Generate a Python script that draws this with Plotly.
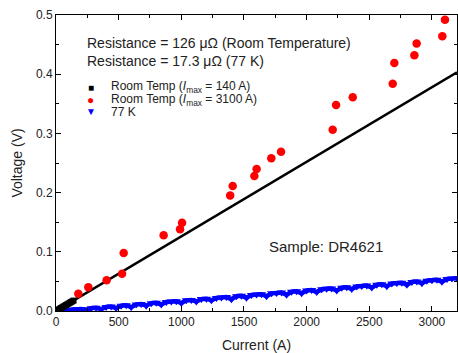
import plotly.graph_objects as go

# ---------------- data ----------------
rt140_current = [0, 10, 20, 30, 40, 50, 60, 70, 80, 90, 100, 110, 120, 130, 140]
rt140_voltage = [0.0000, 0.0013, 0.0025, 0.0038, 0.0050, 0.0063, 0.0076, 0.0088,
                 0.0101, 0.0113, 0.0126, 0.0139, 0.0151, 0.0164, 0.0176]

rt3100_current = [178, 258, 404, 527, 540, 859, 990, 1006, 1390, 1410, 1583, 1601,
                  1718, 1796, 2208, 2235, 2368, 2687, 2700, 2860, 2878, 3083, 3104]
rt3100_voltage = [0.029, 0.040, 0.052, 0.063, 0.098, 0.128, 0.138, 0.149, 0.195, 0.211,
                  0.228, 0.240, 0.258, 0.269, 0.306, 0.348, 0.361, 0.384, 0.419, 0.432,
                  0.452, 0.464, 0.492]

k77_current = [0, 40, 80, 120, 160, 200, 240, 280, 320, 360, 400, 440, 480, 520, 560,
               600, 640, 680, 720, 760, 800, 840, 880, 920, 960, 1000, 1040, 1080, 1120,
               1160, 1200, 1240, 1280, 1320, 1360, 1400, 1440, 1480, 1520, 1560, 1600,
               1640, 1680, 1720, 1760, 1800, 1840, 1880, 1920, 1960, 2000, 2040, 2080,
               2120, 2160, 2200, 2240, 2280, 2320, 2360, 2400, 2440, 2480, 2520, 2560,
               2600, 2640, 2680, 2720, 2760, 2800, 2840, 2880, 2920, 2960, 3000, 3040,
               3080, 3120, 3160, 3200]
k77_voltage = [0.0000, 0.0007, 0.0014, 0.0021, 0.0028, 0.0035, 0.0020, 0.0048, 0.0055,
               0.0030, 0.0069, 0.0076, 0.0050, 0.0090, 0.0097, 0.0065, 0.0111, 0.0118,
               0.0090, 0.0131, 0.0138, 0.0110, 0.0152, 0.0159, 0.0166, 0.0135, 0.0180,
               0.0187, 0.0160, 0.0201, 0.0208, 0.0180, 0.0221, 0.0228, 0.0235, 0.0200,
               0.0249, 0.0256, 0.0225, 0.0270, 0.0277, 0.0284, 0.0250, 0.0298, 0.0304,
               0.0311, 0.0275, 0.0325, 0.0332, 0.0300, 0.0346, 0.0353, 0.0320, 0.0367,
               0.0374, 0.0381, 0.0345, 0.0394, 0.0401, 0.0370, 0.0415, 0.0422, 0.0429,
               0.0395, 0.0443, 0.0450, 0.0420, 0.0464, 0.0471, 0.0477, 0.0445, 0.0491,
               0.0498, 0.0470, 0.0512, 0.0519, 0.0526, 0.0495, 0.0540, 0.0547, 0.0554]

fit_current = [0, 3200]
fit_voltage = [0.0, 0.4032]

x_ticks = [0, 500, 1000, 1500, 2000, 2500, 3000]
y_ticks = [0.0, 0.1, 0.2, 0.3, 0.4, 0.5]

FONT = "Arial, Liberation Sans, sans-serif"
TXT = "#222222"

fig = go.Figure()
fig.add_trace(go.Scatter(x=k77_current, y=k77_voltage, mode="lines+markers",
                         line=dict(color="#0000FF", width=4.5),
                         marker=dict(symbol="triangle-down", size=8, color="#0000FF"),
                         name="77 K"))
fig.add_trace(go.Scatter(x=fit_current, y=fit_voltage, mode="lines",
                         line=dict(color="black", width=2.5), name="fit"))
fig.add_trace(go.Scatter(x=rt140_current, y=rt140_voltage, mode="markers",
                         marker=dict(symbol="square", size=6, color="black"),
                         name="Room Temp (Imax = 140 A)"))
fig.add_trace(go.Scatter(x=rt3100_current, y=rt3100_voltage, mode="markers",
                         marker=dict(symbol="circle", size=8.5, color="#FF0000"),
                         name="Room Temp (Imax = 3100 A)"))

axis_common = dict(showline=True, linecolor="black", linewidth=1, mirror="allticks",
                   ticks="inside", ticklen=5, tickcolor="black", showgrid=False,
                   zeroline=False, tickfont=dict(family=FONT, size=12, color=TXT))

fig.update_xaxes(range=[0, 3200], tickvals=x_ticks,
                 minor=dict(ticks="inside", ticklen=3, dtick=250, tickcolor="black"),
                 title=dict(text="Current (A)", font=dict(family=FONT, size=14, color=TXT),
                            standoff=12),
                 **axis_common)
fig.update_yaxes(range=[0, 0.5], tickvals=y_ticks, tickformat=".1f",
                 minor=dict(ticks="inside", ticklen=3, dtick=0.05, tickcolor="black"),
                 title=dict(text="Voltage (V)", font=dict(family=FONT, size=14, color=TXT),
                            standoff=10),
                 **axis_common)

ann = []
def txt(x, y, s, size=13, anchor="left"):
    ann.append(dict(xref="paper", yref="paper", x=x, y=y, text=s, showarrow=False,
                    xanchor=anchor, yanchor="middle",
                    font=dict(family=FONT, size=size, color=TXT)))

txt(0.072, 0.907, "Resistance = 126 μΩ (Room Temperature)", size=14)
txt(0.072, 0.843, "Resistance = 17.3 μΩ (77 K)", size=14)
txt(0.133, 0.757, "Room Temp (<i>I</i><sub>max</sub> = 140 A)", size=12)
txt(0.133, 0.714, "Room Temp (<i>I</i><sub>max</sub> = 3100 A)", size=12)
txt(0.133, 0.672, "77 K", size=12)
txt(0.673, 0.217, "Sample: DR4621", size=15, anchor="center")

# legend keys
ann.append(dict(xref="paper", yref="paper", x=0.087, y=0.755, text="■", showarrow=False,
                xanchor="center", yanchor="middle", font=dict(family=FONT, size=10, color="black")))
ann.append(dict(xref="paper", yref="paper", x=0.087, y=0.714, text="●", showarrow=False,
                xanchor="center", yanchor="middle", font=dict(family=FONT, size=12, color="#FF0000")))
ann.append(dict(xref="paper", yref="paper", x=0.087, y=0.674, text="▼", showarrow=False,
                xanchor="center", yanchor="middle", font=dict(family=FONT, size=10, color="#0000FF")))

fig.update_layout(width=458, height=353, margin=dict(l=56, r=1, t=14.5, b=42),
                  paper_bgcolor="white", plot_bgcolor="white", showlegend=False,
                  annotations=ann, font=dict(family=FONT, color=TXT))

fig.write_html("out.html")
